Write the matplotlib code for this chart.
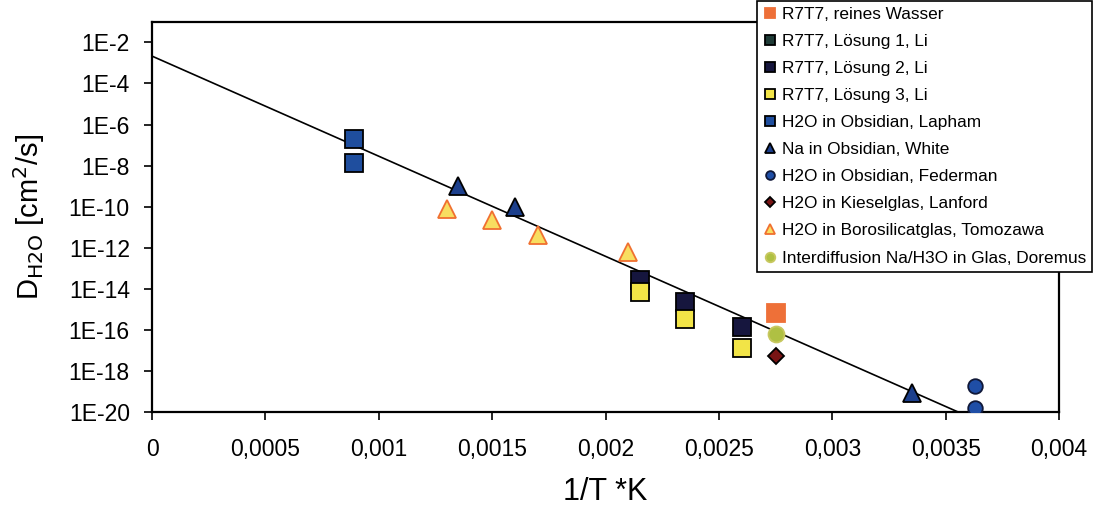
import numpy as np
import matplotlib
matplotlib.use('Agg')
import matplotlib.pyplot as plt
from matplotlib.ticker import FixedLocator, FuncFormatter, NullLocator

plt.rcParams['font.family'] = ['Liberation Sans', 'DejaVu Sans']

# data: 1/T (1/K) and D (cm^2/s)
wasser_x = [0.00275]
wasser_y = [6.7e-16]
loesung1_x = []
loesung1_y = []
loesung2_x = [0.00215, 0.00235, 0.0026]
loesung2_y = [2.8e-14, 2.3e-15, 1.4e-16]
loesung3_x = [0.00215, 0.00235, 0.0026]
loesung3_y = [7e-15, 3.5e-16, 1.3e-17]
lapham_x = [0.00089, 0.00089]
lapham_y = [1.9e-7, 1.4e-8]
white_x = [0.00135, 0.0016, 0.00335]
white_y = [1.0e-9, 1.0e-10, 8.5e-20]
federman_x = [0.00363, 0.00363]
federman_y = [1.9e-19, 1.6e-20]
lanford_x = [0.00275]
lanford_y = [5.4e-18]
tomozawa_x = [0.0013, 0.0015, 0.0017, 0.0021]
tomozawa_y = [8e-11, 2.3e-11, 4.3e-12, 6.3e-13]
doremus_x = [0.00275]
doremus_y = [6.3e-17]

# fitted line: log10(D) = fit_a + fit_b * (1/T)
fit_a = -2.67
fit_b = -4875.0

x_ticks = [0, 0.0005, 0.001, 0.0015, 0.002, 0.0025, 0.003, 0.0035, 0.004]
x_ticklabels = ['0', '0,0005', '0,001', '0,0015', '0,002', '0,0025', '0,003', '0,0035', '0,004']
y_exponents = [-2, -4, -6, -8, -10, -12, -14, -16, -18, -20]

series = [
    (wasser_x, wasser_y, 'R7T7, reines Wasser', dict(marker='s', color='#EE7038', mec='#EE7038', ms=13)),
    (loesung1_x, loesung1_y, 'R7T7, Lösung 1, Li', dict(marker='s', color='#1E3B36', mec='black', ms=13)),
    (loesung2_x, loesung2_y, 'R7T7, Lösung 2, Li', dict(marker='s', color='#16163E', mec='black', ms=13)),
    (loesung3_x, loesung3_y, 'R7T7, Lösung 3, Li', dict(marker='s', color='#F2E447', mec='black', ms=13)),
    (lapham_x, lapham_y, 'H2O in Obsidian, Lapham', dict(marker='s', color='#1F4E9E', mec='black', ms=13)),
    (white_x, white_y, 'Na in Obsidian, White', dict(marker='^', color='#1C3F8C', mec='black', ms=12.5)),
    (federman_x, federman_y, 'H2O in Obsidian, Federman', dict(marker='o', color='#1F4EA6', mec='#101838', ms=10.5)),
    (lanford_x, lanford_y, 'H2O in Kieselglas, Lanford', dict(marker='D', color='#781414', mec='black', ms=8.5)),
    (tomozawa_x, tomozawa_y, 'H2O in Borosilicatglas, Tomozawa', dict(marker='^', color='#F8DE60', mec='#F07030', ms=12.5)),
    (doremus_x, doremus_y, 'Interdiffusion Na/H3O in Glas, Doremus', dict(marker='o', color='#AFC043', mec='#C8C860', ms=11.5)),
]

fig = plt.figure(figsize=(11.02, 5.08), dpi=100)
ax = fig.add_axes([0.138, 0.189, 0.823, 0.768])

fit_x = np.array([0.0, 0.004])
ax.plot(fit_x, 10 ** (fit_a + fit_b * fit_x), color='black', lw=1.2, zorder=2)

for xs, ys, label, style in series:
    ax.plot(xs, ys, ls='none', label=label, mew=1.3, zorder=3, **style)

ax.set_yscale('log')
ax.set_xlim(0, 0.004)
ax.set_ylim(1e-20, 1e-1)
ax.xaxis.set_major_locator(FixedLocator(x_ticks))
ax.set_xticklabels(x_ticklabels)
ax.yaxis.set_major_locator(FixedLocator([10.0 ** e for e in y_exponents]))
ax.yaxis.set_minor_locator(NullLocator())
ax.yaxis.set_major_formatter(FuncFormatter(lambda v, p: '1E%d' % round(np.log10(v))))
ax.tick_params(axis='both', direction='out', length=6, width=1.2, labelsize=16.5)
ax.tick_params(axis='y', pad=10)
ax.tick_params(axis='x', pad=13)
for sp in ax.spines.values():
    sp.set_linewidth(1.6)

ax.set_xlabel('1/T *K', fontsize=22, labelpad=11)
ax.set_ylabel(r'D$_{\mathrm{H2O}}$ [cm$^2$/s]', fontsize=21, labelpad=16)

leg = fig.legend(loc='upper left', bbox_to_anchor=(0.687, 0.999), fontsize=12.4,
                 frameon=True, fancybox=False, edgecolor='black', framealpha=1,
                 markerscale=0.6, handlelength=0.8, handletextpad=0.3,
                 borderpad=0.35, labelspacing=0.7, borderaxespad=0)
leg.get_frame().set_linewidth(1.2)

fig.savefig('out.png', dpi=100)
